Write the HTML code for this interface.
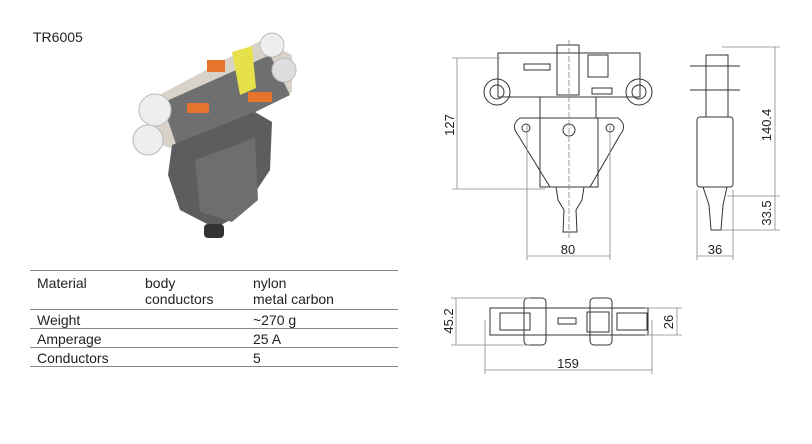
<!DOCTYPE html>
<html><head><meta charset="utf-8"><style>
html,body{margin:0;padding:0;background:#fff;}
body{width:812px;height:444px;overflow:hidden;position:relative;font-family:"Liberation Sans",sans-serif;color:#222;}
.t{position:absolute;font-size:14px;line-height:16px;white-space:nowrap;}
.l{position:absolute;left:30px;width:368px;height:0;border-top:1.5px solid #888;}
</style></head><body>
<div class="t" style="left:33px;top:29px;">TR6005</div>

<svg width="812" height="444" style="position:absolute;left:0;top:0">
<!-- product photo -->
<g>
 <polygon points="150,100 262,40 292,55 292,92 178,150 150,142" fill="#d8d2c8"/>
 <polygon points="162,103 270,55 290,95 178,150" fill="#6d6f71"/>
 <circle cx="155" cy="110" r="16" fill="#eee" stroke="#bbb"/>
 <circle cx="148" cy="140" r="15" fill="#eee" stroke="#bbb"/>
 <circle cx="272" cy="45" r="12" fill="#eee" stroke="#bbb"/>
 <circle cx="284" cy="70" r="12" fill="#ddd" stroke="#bbb"/>
 <polygon points="172,145 255,112 272,122 270,170 240,215 215,228 180,210 168,175" fill="#5b5d5f"/>
 <polygon points="195,160 255,138 258,200 232,222 200,212" fill="#6c6e70"/>
 <rect x="204" y="224" width="20" height="14" rx="4" fill="#333"/>
 <polygon points="232,52 252,46 256,88 240,95" fill="#e6e04a"/>
 <rect x="207" y="60" width="18" height="12" fill="#e8732a"/>
 <rect x="187" y="103" width="22" height="10" fill="#e8732a"/>
 <rect x="248" y="92" width="24" height="10" fill="#e8732a"/>
</g>

<g fill="none" stroke="#333" stroke-width="1">
 <!-- front view -->
 <rect x="498" y="53" width="142" height="44"/>
 <rect x="557" y="45" width="22" height="50"/>
 <rect x="588" y="55" width="20" height="22"/>
 <rect x="524" y="64" width="26" height="6"/>
 <rect x="592" y="88" width="20" height="6"/>
 <circle cx="497" cy="92" r="13"/><circle cx="497" cy="92" r="7"/>
 <circle cx="639" cy="92" r="13"/><circle cx="639" cy="92" r="7"/>
 <rect x="540" y="97" width="56" height="21"/>
 <path d="M520,118 L618,118 Q628,125 620,135 L590,187 L550,187 L518,135 Q510,125 520,118 Z"/>
 <rect x="540" y="118" width="58" height="69"/>
 <circle cx="526" cy="128" r="4"/><circle cx="610" cy="128" r="4"/>
 <circle cx="569" cy="130" r="6"/>
 <path d="M556,187 L584,187 L582,200 L576,210 L577,232 L563,232 L564,210 L558,200 Z"/>
 <!-- side view -->
 <rect x="697" y="117" width="36" height="70" rx="3"/>
 <rect x="706" y="55" width="22" height="62"/>
 <line x1="690" y1="66" x2="740" y2="66"/><line x1="690" y1="90" x2="740" y2="90"/>
 <path d="M703,187 L727,187 L723,205 L721,230 L711,230 L709,205 Z"/>
 <!-- bottom view -->
 <rect x="524" y="298" width="22" height="47" rx="4"/>
 <rect x="590" y="298" width="22" height="47" rx="4"/>
 <rect x="490" y="308" width="158" height="27"/>
 <rect x="500" y="313" width="30" height="17"/>
 <rect x="617" y="313" width="30" height="17"/>
 <rect x="558" y="318" width="18" height="6"/>
 <rect x="587" y="312" width="22" height="20"/>
</g>
<g stroke="#888" stroke-width="0.8" fill="none">
 <line x1="569" y1="40" x2="569" y2="240" stroke-dasharray="6,2"/>
 <line x1="457" y1="58" x2="457" y2="189"/><line x1="452" y1="58" x2="500" y2="58"/><line x1="452" y1="189" x2="545" y2="189"/>
 <line x1="527" y1="125" x2="527" y2="260"/><line x1="610" y1="125" x2="610" y2="260"/><line x1="527" y1="256" x2="610" y2="256"/>
 <line x1="775" y1="47" x2="775" y2="230"/><line x1="722" y1="47" x2="780" y2="47"/><line x1="727" y1="196" x2="780" y2="196"/><line x1="721" y1="230" x2="780" y2="230"/>
 <line x1="697" y1="190" x2="697" y2="260"/><line x1="733" y1="190" x2="733" y2="260"/><line x1="697" y1="256" x2="733" y2="256"/>
 <line x1="456" y1="298" x2="456" y2="345"/><line x1="451" y1="298" x2="530" y2="298"/><line x1="451" y1="345" x2="530" y2="345"/>
 <line x1="677" y1="308" x2="677" y2="335"/><line x1="645" y1="308" x2="682" y2="308"/><line x1="645" y1="335" x2="682" y2="335"/>
 <line x1="485" y1="320" x2="485" y2="374"/><line x1="652" y1="320" x2="652" y2="374"/><line x1="485" y1="370" x2="652" y2="370"/>
</g>
<g font-family="Liberation Sans Narrow, Liberation Sans, sans-serif" font-size="13" fill="#222" text-anchor="middle">
 <text x="568" y="254">80</text>
 <text x="715" y="254">36</text>
 <text x="568" y="368">159</text>
 <text transform="translate(454,125) rotate(-90)">127</text>
 <text transform="translate(771,125) rotate(-90)">140.4</text>
 <text transform="translate(771,213) rotate(-90)">33.5</text>
 <text transform="translate(453,321) rotate(-90)">45.2</text>
 <text transform="translate(673,322) rotate(-90)">26</text>
</g>
</svg>

<div class="l" style="top:270px"></div>
<div class="t" style="left:37px;top:275px">Material</div>
<div class="t" style="left:145px;top:275px">body<br>conductors</div>
<div class="t" style="left:253px;top:275px">nylon<br>metal carbon</div>
<div class="l" style="top:309px"></div>
<div class="t" style="left:37px;top:312px">Weight</div>
<div class="t" style="left:253px;top:312px">~270 g</div>
<div class="l" style="top:328px"></div>
<div class="t" style="left:37px;top:331px">Amperage</div>
<div class="t" style="left:253px;top:331px">25 A</div>
<div class="l" style="top:347px"></div>
<div class="t" style="left:37px;top:350px">Conductors</div>
<div class="t" style="left:253px;top:350px">5</div>
<div class="l" style="top:366px"></div>
</body></html>
